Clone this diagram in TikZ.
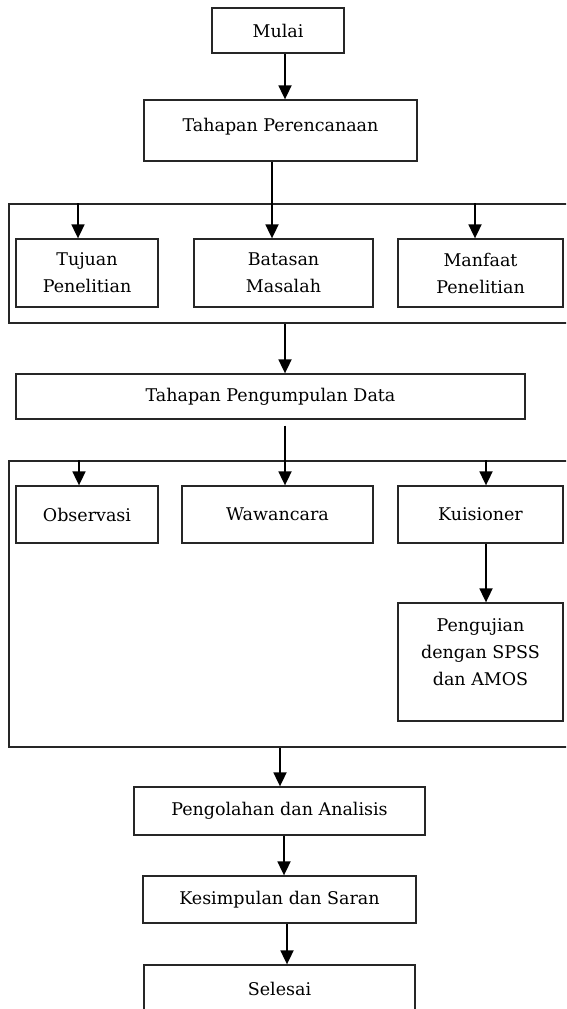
\documentclass[tikz,border=0pt]{standalone}
\usepackage{fontspec}
\setmainfont{DejaVu Serif}
\usetikzlibrary{arrows.meta}

\tikzset{
  kotak/.style={draw=black!85, line width=1.3pt, align=center, inner sep=2pt,
    font=\fontsize{17.5}{27}\selectfont, text=black},
  grup/.style={draw=black!85, line width=1.3pt, inner sep=0pt},
  panah/.style={draw=black, line width=1.8pt, -{Triangle[length=14pt,width=13pt]}}
}

\begin{document}
\begin{tikzpicture}[x=1pt,y=-1pt]
  \useasboundingbox (0,0) rectangle (566,1009);
  \clip (0,0) rectangle (566,1009);

  % tahapan perencanaan
  \node[kotak, minimum width=132, minimum height=45] (mulai) at (278,30.5) {Mulai};
  \node[kotak, minimum width=273, minimum height=61, text depth=12pt] (tp) at (280.5,130.5) {Tahapan Perencanaan};
  \node[grup, minimum width=566, minimum height=119] (grup1) at (292,263.5) {};
  \node[kotak, minimum width=142, minimum height=68] (tujuan) at (87,273) {Tujuan\\Penelitian};
  \node[kotak, minimum width=179, minimum height=68] (batasan) at (283.5,273) {Batasan\\Masalah};
  \node[kotak, minimum width=165, minimum height=68] (manfaat) at (480.5,273) {Manfaat\\Penelitian};

  \draw[panah] ([xshift=7pt]mulai.south) -- ([xshift=4.5pt]tp.north);
  \draw[panah] ([xshift=-8.5pt]tp.south) -- ([xshift=-11.5pt]batasan.north);
  \draw[panah] ([xshift=-9pt]tujuan.north |- grup1.north) -- ([xshift=-9pt]tujuan.north);
  \draw[panah] ([xshift=-5.5pt]manfaat.north |- grup1.north) -- ([xshift=-5.5pt]manfaat.north);

  % tahapan pengumpulan data
  \node[kotak, minimum width=509, minimum height=45] (tpd) at (270.5,396.5) {Tahapan Pengumpulan Data};
  \node[grup, minimum width=566, minimum height=286] (grup2) at (292,604) {};
  \node[kotak, minimum width=142, minimum height=57] (obs) at (87,514.5) {Observasi};
  \node[kotak, minimum width=191, minimum height=57] (wawancara) at (277.5,514.5) {Wawancara};
  \node[kotak, minimum width=165, minimum height=57] (kuis) at (480.5,514.5) {Kuisioner};
  \node[kotak, minimum width=165, minimum height=118, text depth=20pt] (uji) at (480.5,662) {Pengujian\\dengan SPSS\\dan AMOS};

  \draw[panah] ([xshift=-7pt]grup1.south) -- ([xshift=14.5pt]tpd.north);
  \draw[panah] ([xshift=14.5pt,yshift=-6pt]tpd.south) -- ([xshift=7.5pt]wawancara.north);
  \draw[panah] ([xshift=-8pt]obs.north |- grup2.north) -- ([xshift=-8pt]obs.north);
  \draw[panah] ([xshift=5.5pt]kuis.north |- grup2.north) -- ([xshift=5.5pt]kuis.north);
  \draw[panah] ([xshift=5.5pt]kuis.south) -- ([xshift=5.5pt]uji.north);

  % pengolahan sampai selesai
  \node[kotak, minimum width=291, minimum height=48] (olah) at (279.5,811) {Pengolahan dan Analisis};
  \node[kotak, minimum width=273, minimum height=47] (simpul) at (279.5,899.5) {Kesimpulan dan Saran};
  \node[kotak, minimum width=271, minimum height=48] (selesai) at (279.5,989) {Selesai};

  \draw[panah] ([xshift=-12pt]grup2.south) -- ([xshift=0.5pt]olah.north);
  \draw[panah] ([xshift=4.5pt]olah.south) -- ([xshift=4.5pt]simpul.north);
  \draw[panah] ([xshift=7.5pt]simpul.south) -- ([xshift=7.5pt]selesai.north);
\end{tikzpicture}
\end{document}
